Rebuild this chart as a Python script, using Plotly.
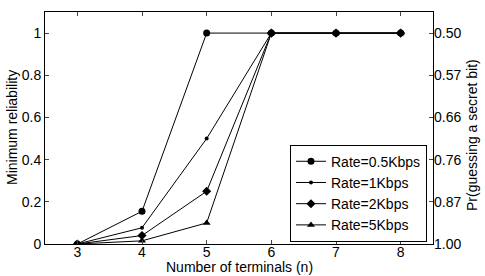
import plotly.graph_objects as go

terminals = [3, 4, 5, 6, 7, 8]
rate_05 = [0, 0.155, 1, 1, 1, 1]
rate_1 = [0, 0.077, 0.5, 1, 1, 1]
rate_2 = [0, 0.04, 0.25, 1, 1, 1]
rate_5 = [0, 0.015, 0.1, 1, 1, 1]
names = ["Rate=0.5Kbps", "Rate=1Kbps", "Rate=2Kbps", "Rate=5Kbps"]
left_ticks = [0, 0.2, 0.4, 0.6, 0.8, 1]
left_labels = ["0", "0.2", "0.4", "0.6", "0.8", "1"]
right_labels = ["1.00", "0.87", "0.76", "0.66", "0.57", "0.50"]

series = [rate_05, rate_1, rate_2, rate_5]
symbols = ["circle", "circle", "diamond", "triangle-up"]
sizes = [7, 4, 7, 7]

fig = go.Figure()
for name, ys, sym, sz in zip(names, series, symbols, sizes):
    fig.add_trace(go.Scatter(x=terminals, y=ys, name=name, mode="lines+markers",
                             line=dict(color="black", width=1),
                             marker=dict(symbol=sym, size=sz, color="black")))
fig.add_trace(go.Scatter(x=terminals, y=rate_05, yaxis="y2", showlegend=False,
                         mode="lines", line=dict(width=0), hoverinfo="skip", opacity=0))

font = dict(family="Liberation Sans, Arial", size=14, color="black")
fig.update_layout(
    width=485, height=276,
    margin=dict(l=45, r=52, t=12, b=32),
    plot_bgcolor="white", paper_bgcolor="white",
    font=font,
    xaxis=dict(range=[2.5, 8.5], tickvals=terminals, ticks="inside", ticklen=4,
               showline=True, linecolor="black", linewidth=1, mirror="ticks",
               showgrid=False, zeroline=False, tickfont=font, ticklabelstandoff=-5),
    yaxis=dict(range=[0, 1.1], tickvals=left_ticks, ticktext=left_labels,
               ticks="inside", ticklen=4, showline=True, linecolor="black",
               linewidth=1, mirror=True, showgrid=False, zeroline=False, tickfont=font),
    yaxis2=dict(range=[0, 1.1], tickvals=left_ticks, ticktext=right_labels,
                overlaying="y", side="right", ticks="inside", ticklen=4,
                showline=False, showgrid=False, zeroline=False, tickfont=font),
    legend=dict(x=0.9845, xanchor="right", y=0.01, yanchor="bottom",
                bgcolor="white", bordercolor="black", borderwidth=1,
                font=font, tracegroupgap=0, itemwidth=30),
    annotations=[
        dict(text="Number of terminals (n)", xref="paper", yref="paper",
             x=0.5, y=(244 - 267) / 232, xanchor="center", yanchor="middle",
             showarrow=False, font=font),
        dict(text="Minimum reliability", xref="paper", yref="paper",
             x=(12 - 45) / 388, y=0.5, xanchor="center", yanchor="middle",
             textangle=-90, showarrow=False, font=font),
        dict(text="Pr(guessing a secret bit)", xref="paper", yref="paper",
             x=(472 - 45) / 388, y=(244 - 135) / 232, xanchor="center", yanchor="middle",
             textangle=-90, showarrow=False, font=font),
    ],
)
fig.write_html("out.html", config={"displayModeBar": False},
               post_script="document.body.style.margin='0';")
